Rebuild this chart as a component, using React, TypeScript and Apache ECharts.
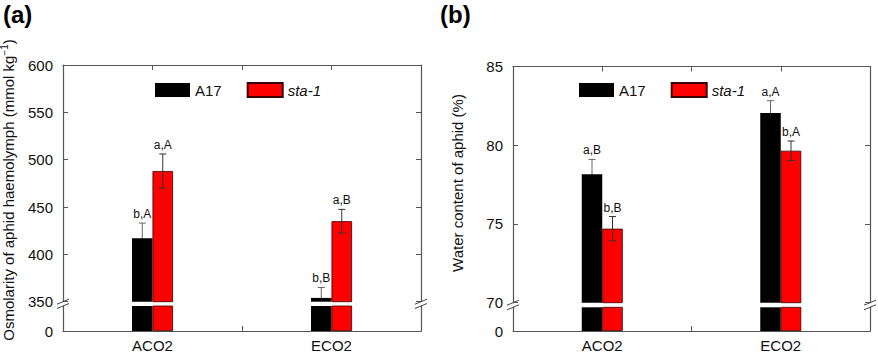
import React, { useEffect, useRef } from "react";
import * as echarts from "echarts";

// ---------- data ----------
const categories = ["ACO2", "ECO2"];
const seriesNames = ["A17", "sta-1"];

// (a) Osmolarity of aphid haemolymph
const osmA17 = [417, 354];
const osmA17Err = [16, 11];
const osmA17Labels = ["b,A", "b,B"];
const osmSta = [488, 435];
const osmStaErr = [18, 12.5];
const osmStaLabels = ["a,A", "a,B"];
const osmTicks = { min: 350, max: 600, interval: 50 };

// (b) Water content of aphid
const watA17 = [78.15, 82.05];
const watA17Err = [0.95, 0.78];
const watA17Labels = ["a,B", "a,A"];
const watSta = [74.7, 79.65];
const watStaErr = [0.77, 0.62];
const watStaLabels = ["b,B", "b,A"];
const watTicks = { min: 70, max: 85, interval: 5 };

// ---------- layout / style ----------
const FONT = '"Liberation Sans", Arial, sans-serif';
const AXIS = "#555";
const TXT = "#111";
const BAR_W = 20.5;
const COLORS = ["#000000", "#ff0000"];

const PANELS = [
  { left: 63, width: 358, upTop: 65, upH: 236.7, lowTop: 306, lowH: 25 },
  { left: 513, width: 357, upTop: 66.5, upH: 236.2, lowTop: 307.3, lowH: 24.4 },
];

function errSeries(
  xAxisIndex: number,
  yAxisIndex: number,
  values: number[],
  errs: number[],
  labels: string[],
  sign: number,
  color: string,
  z: number
) {
  return {
    type: "custom",
    xAxisIndex,
    yAxisIndex,
    clip: true,
    z,
    silent: true,
    data: values.map((v, i) => [i, v, errs[i]]),
    renderItem: (params: any, api: any) => {
      const i = api.value(0);
      const v = api.value(1);
      const e = api.value(2);
      const top = api.coord([i, v + e]);
      const bot = api.coord([i, v - e]);
      const cx = top[0] + (sign * BAR_W) / 2;
      const cap = 3.5;
      const lineStyle = { stroke: color, lineWidth: 1 };
      return {
        type: "group",
        children: [
          { type: "line", shape: { x1: cx, y1: top[1], x2: cx, y2: bot[1] }, style: lineStyle },
          { type: "line", shape: { x1: cx - cap, y1: top[1], x2: cx + cap, y2: top[1] }, style: lineStyle },
          { type: "line", shape: { x1: cx - cap, y1: bot[1], x2: cx + cap, y2: bot[1] }, style: lineStyle },
          {
            type: "text",
            x: cx,
            y: top[1] - 3,
            style: {
              text: labels[params.dataIndex],
              align: "center",
              verticalAlign: "bottom",
              fontSize: 12,
              fontFamily: FONT,
              fill: TXT,
            },
          },
        ],
      };
    },
  };
}

function buildOption() {
  const grids: any[] = [];
  const xAxes: any[] = [];
  const yAxes: any[] = [];
  const series: any[] = [];
  const graphics: any[] = [];
  const legends: any[] = [];

  const panelData = [
    { a: osmA17, s: osmSta, ae: osmA17Err, se: osmStaErr, al: osmA17Labels, sl: osmStaLabels, t: osmTicks },
    { a: watA17, s: watSta, ae: watA17Err, se: watStaErr, al: watA17Labels, sl: watStaLabels, t: watTicks },
  ];

  PANELS.forEach((p, k) => {
    const d = panelData[k];
    const gUp = grids.length;
    grids.push({ left: p.left, top: p.upTop, width: p.width, height: p.upH, containLabel: false });
    const gLow = grids.length;
    grids.push({ left: p.left, top: p.lowTop, width: p.width, height: p.lowH, containLabel: false });

    // upper grid axes
    const xUpCat = xAxes.length;
    xAxes.push({ type: "category", gridIndex: gUp, data: categories, show: false });
    xAxes.push({
      type: "value",
      gridIndex: gUp,
      position: "top",
      min: 0,
      max: 4,
      interval: 1,
      axisLine: { show: true, lineStyle: { color: AXIS, width: 1.2 } },
      axisTick: { show: true, inside: true, length: 5, lineStyle: { color: AXIS } },
      axisLabel: { show: false },
      splitLine: { show: false },
    });
    const yUpL = yAxes.length;
    yAxes.push({
      type: "value",
      gridIndex: gUp,
      position: "left",
      min: d.t.min,
      max: d.t.max,
      interval: d.t.interval,
      axisLine: { show: true, lineStyle: { color: AXIS, width: 1.2 } },
      axisTick: { show: true, inside: true, length: 5, lineStyle: { color: AXIS } },
      axisLabel: { color: TXT, fontSize: 15, fontFamily: FONT, margin: 10 },
      splitLine: { show: false },
    });
    yAxes.push({
      type: "value",
      gridIndex: gUp,
      position: "right",
      min: d.t.min,
      max: d.t.max,
      interval: d.t.interval,
      axisLine: { show: true, lineStyle: { color: AXIS, width: 1.2 } },
      axisTick: { show: true, inside: true, length: 5, lineStyle: { color: AXIS } },
      axisLabel: { show: false },
      splitLine: { show: false },
    });

    // lower grid axes
    const xLowCat = xAxes.length;
    xAxes.push({
      type: "category",
      gridIndex: gLow,
      data: categories,
      position: "bottom",
      axisLine: { show: true, lineStyle: { color: AXIS, width: 1.2 } },
      axisTick: { show: true, inside: true, length: 5, alignWithLabel: false, interval: 0, lineStyle: { color: AXIS } },
      axisLabel: { color: TXT, fontSize: 15, fontFamily: FONT, margin: 7, interval: 0 },
    });
    const yLowL = yAxes.length;
    yAxes.push({
      type: "value",
      gridIndex: gLow,
      position: "left",
      min: 0,
      max: d.t.min,
      interval: d.t.min,
      axisLine: { show: true, lineStyle: { color: AXIS, width: 1.2 } },
      axisTick: { show: false },
      axisLabel: {
        color: TXT,
        fontSize: 15,
        fontFamily: FONT,
        margin: 10,
        formatter: (v: number) => (v === 0 ? "0" : ""),
      },
      splitLine: { show: false },
    });
    yAxes.push({
      type: "value",
      gridIndex: gLow,
      position: "right",
      min: 0,
      max: d.t.min,
      interval: d.t.min,
      axisLine: { show: true, lineStyle: { color: AXIS, width: 1.2 } },
      axisTick: { show: false },
      axisLabel: { show: false },
      splitLine: { show: false },
    });

    const vals = [d.a, d.s];
    [
      [xUpCat, yUpL],
      [xLowCat, yLowL],
    ].forEach(([xi, yi]) => {
      vals.forEach((arr, si) => {
        series.push({
          type: "bar",
          name: seriesNames[si],
          xAxisIndex: xi,
          yAxisIndex: yi,
          data: arr,
          barWidth: BAR_W,
          barGap: "0%",
          clip: true,
          z: 2,
          itemStyle: {
            color: COLORS[si],
            borderColor: si === 1 ? "#3a0000" : "#000",
            borderWidth: si === 1 ? 0.8 : 0,
          },
        });
      });
    });

    // A17 error bars sit behind the black bars (only the upper whisker shows)
    series.push(errSeries(xUpCat, yUpL, d.a, d.ae, d.al, -1, "#666", 1));
    series.push(errSeries(xUpCat, yUpL, d.s, d.se, d.sl, 1, "#333", 5));

    // axis break marks
    const upBottom = p.upTop + p.upH;
    [p.left, p.left + p.width].forEach((x) => {
      [upBottom, p.lowTop].forEach((y) => {
        graphics.push({
          type: "line",
          shape: { x1: x - 6, y1: y + 2.5, x2: x + 6, y2: y - 2.5 },
          style: { stroke: "#444", lineWidth: 1 },
          z: 10,
        });
      });
    });

    legends.push({
      data: seriesNames,
      left: k === 0 ? 155 : 579,
      top: 82,
      padding: 0,
      itemWidth: 35,
      itemHeight: 14,
      itemGap: 25,
      icon: "rect",
      selectedMode: false,
      textStyle: {
        color: TXT,
        fontSize: 15,
        fontFamily: FONT,
        rich: { i: { fontStyle: "italic", fontSize: 15, fontFamily: FONT, color: TXT } },
      },
      formatter: (n: string) => (n === "sta-1" ? "{i|sta-1}" : n),
    });
  });

  // panel letters
  graphics.push({
    type: "text",
    x: 3,
    y: 2,
    style: { text: "(a)", fontSize: 24, fontWeight: "bold", fontFamily: FONT, fill: "#000", verticalAlign: "top" },
  });
  graphics.push({
    type: "text",
    x: 440,
    y: 2,
    style: { text: "(b)", fontSize: 24, fontWeight: "bold", fontFamily: FONT, fill: "#000", verticalAlign: "top" },
  });

  // y-axis titles
  graphics.push({
    type: "text",
    x: 8,
    y: 190,
    rotation: Math.PI / 2,
    style: {
      text: "Osmolarity of aphid haemolymph (mmol kg{sup|−1})",
      fontSize: 15,
      fontFamily: FONT,
      fill: TXT,
      align: "center",
      verticalAlign: "middle",
      rich: { sup: { fontSize: 10, fontFamily: FONT, fill: TXT, padding: [0, 0, 8, 0] } },
    },
  });
  graphics.push({
    type: "text",
    x: 457,
    y: 183,
    rotation: Math.PI / 2,
    style: {
      text: "Water content of aphid (%)",
      fontSize: 15,
      fontFamily: FONT,
      fill: TXT,
      align: "center",
      verticalAlign: "middle",
    },
  });

  return {
    animation: false,
    backgroundColor: "#ffffff",
    textStyle: { fontFamily: FONT },
    grid: grids,
    xAxis: xAxes,
    yAxis: yAxes,
    legend: legends,
    series,
    graphic: graphics,
  };
}

export default function App() {
  const ref = useRef<HTMLDivElement>(null);
  useEffect(() => {
    if (!ref.current) return;
    const chart = echarts.init(ref.current, undefined, { renderer: "svg" });
    chart.setOption(buildOption() as any);
    return () => chart.dispose();
  }, []);
  return (
    <div
      ref={ref}
      style={{ position: "absolute", left: 0, top: 0, width: 878, height: 353, background: "#fff" }}
    />
  );
}
